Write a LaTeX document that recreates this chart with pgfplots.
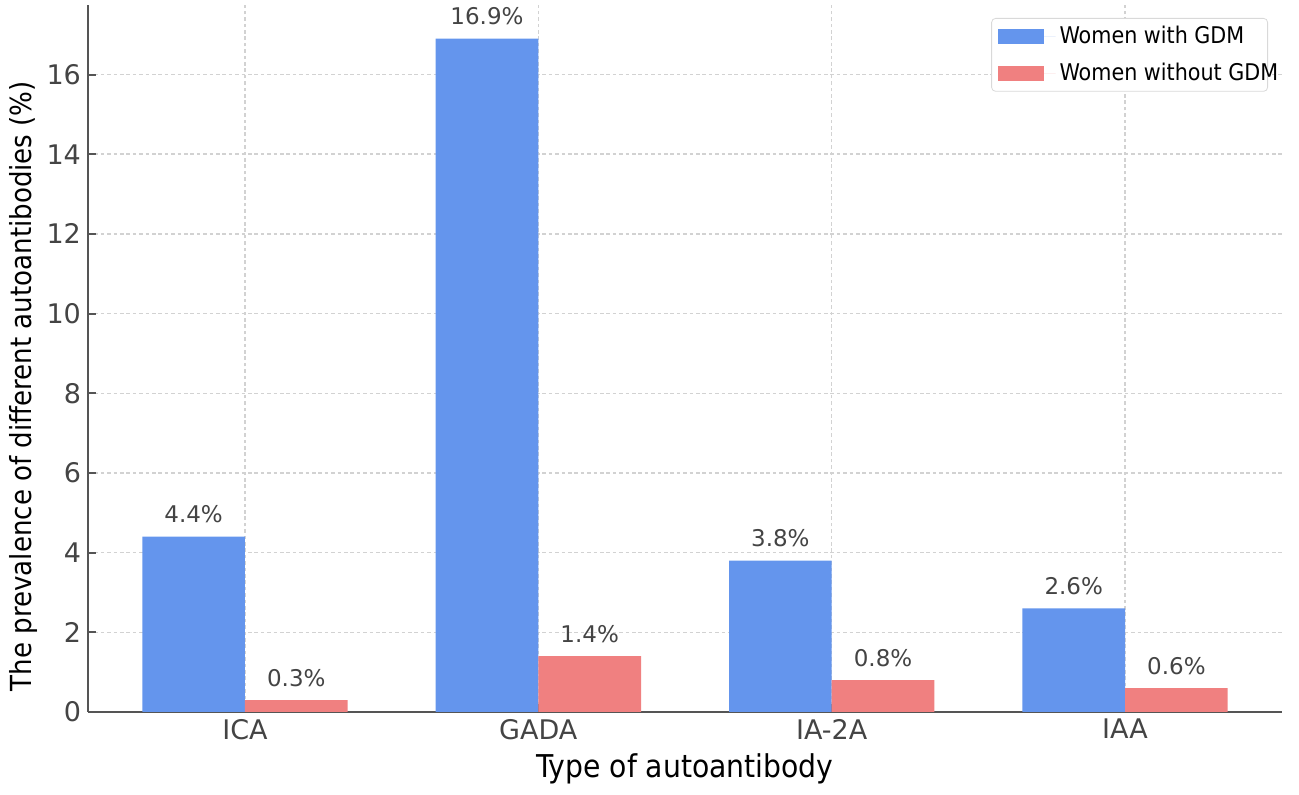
\documentclass[border=0pt]{standalone}
\usepackage{fontspec}
\setmainfont{DejaVu Sans}
\newfontfamily\labelfont{DejaVu Sans Condensed}
\usepackage{pgfplots}
\pgfplotsset{compat=1.18}

\definecolor{gdmblue}{HTML}{6495ED}
\definecolor{gdmred}{HTML}{F08080}
\definecolor{spine}{HTML}{555555}
\definecolor{ticktext}{HTML}{444444}

\begin{document}
\begin{tikzpicture}
% 1 px of the reference = 0.5pt
\useasboundingbox (-44pt,-41.5pt) rectangle (605.5pt,356pt);
\begin{axis}[
    at={(0,0)}, anchor=south west,
    scale only axis, width=597pt, height=353.5pt,
    ybar, bar width=0.35,
    xmin=-0.535, xmax=3.535, ymin=0, ymax=17.745,
    axis x line*=bottom, axis y line*=left,
    axis line style={spine, line width=1.2pt, -},
    xtick={0,1,2,3}, xticklabels={ICA,GADA,IA-2A,IAA},
    ytick={0,2,...,16},
    tick align=inside, major tick length=4pt,
    tick style={spine, line width=1pt},
    grid=major,
    grid style={gray!35, line width=0.7pt, dash pattern=on 1.8pt off 1.4pt},
    ticklabel style={font=\fontsize{13.5}{16}\selectfont, text=ticktext},
    /pgf/number format/assume math mode=true,
    xlabel={Type of autoantibody},
    ylabel={The prevalence of different autoantibodies (\%)},
    xlabel style={font=\labelfont\fontsize{15.7}{18}\selectfont},
    ylabel style={font=\labelfont\fontsize{14.5}{17}\selectfont,
        at={(ticklabel cs:0.461)}, yshift=-2.5pt},
    legend style={at={(1,1)}, anchor=north east, xshift=-7pt, yshift=-6.5pt,
        draw=gray!30, rounded corners=2pt,
        font=\labelfont\fontsize{11.5}{13.5}\selectfont,
        cells={anchor=west}, row sep=4pt, inner xsep=3pt, inner ysep=2pt},
    legend image code/.code={%
        \fill[#1, sharp corners] (0pt,-3.75pt) rectangle (23pt,3.75pt);
        \path (23pt,0pt) -- (29pt,0pt);},
    nodes near coords={\pgfmathprintnumber[fixed,fixed zerofill,precision=1]{\pgfplotspointmeta}\%},
    nodes near coords style={font=\fontsize{11.5}{14}\selectfont, text=ticktext,
        inner sep=0pt, anchor=south, yshift=6.5pt},
]
\addplot[fill=gdmblue, draw=none, bar shift=-0.175]
    coordinates {(0,4.4) (1,16.9) (2,3.8) (3,2.6)};
\addlegendentry{\makebox[99pt][l]{Women with GDM}}
\addplot[fill=gdmred, draw=none, bar shift=0.175]
    coordinates {(0,0.3) (1,1.4) (2,0.8) (3,0.6)};
\addlegendentry{\makebox[99pt][l]{Women without GDM}}
\end{axis}
\end{tikzpicture}
\end{document}
